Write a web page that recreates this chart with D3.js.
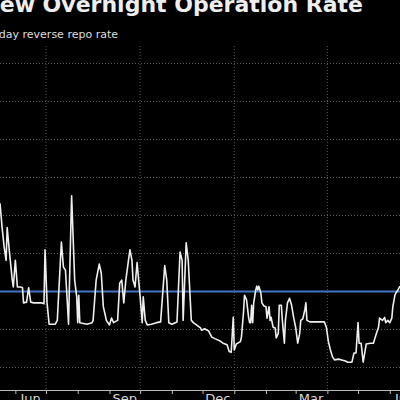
<!DOCTYPE html>
<html>
<head>
<meta charset="utf-8">
<script src="https://cdn.jsdelivr.net/npm/d3@7"></script>
<style>
  html, body { margin: 0; padding: 0; background: #000; }
  svg { display: block; }
</style>
</head>
<body>
<script>
// chart data
var dates = [
  "2019-05-17","2019-05-19","2019-05-21","2019-05-23","2019-05-24","2019-05-26","2019-05-29","2019-05-30",
  "2019-06-01","2019-06-03","2019-06-06","2019-06-08","2019-06-09","2019-06-12","2019-06-14","2019-06-16",
  "2019-06-19","2019-06-27","2019-06-29","2019-06-30","2019-07-02","2019-07-04","2019-07-10","2019-07-12",
  "2019-07-16","2019-07-18","2019-07-20","2019-07-23","2019-07-24","2019-07-26","2019-07-29","2019-07-31",
  "2019-08-01","2019-08-02","2019-08-03","2019-08-10","2019-08-15","2019-08-16","2019-08-19","2019-08-22",
  "2019-08-24","2019-08-26","2019-08-29","2019-09-01","2019-09-03","2019-09-05","2019-09-09","2019-09-11",
  "2019-09-13","2019-09-15","2019-09-17","2019-09-21","2019-09-23","2019-09-24","2019-09-26","2019-09-28",
  "2019-10-01","2019-10-03","2019-10-04","2019-10-06","2019-10-08","2019-10-12","2019-10-17","2019-10-21",
  "2019-10-24","2019-10-25","2019-10-27","2019-10-29","2019-11-01","2019-11-06","2019-11-09","2019-11-11",
  "2019-11-12","2019-11-15","2019-11-17","2019-11-20","2019-11-22","2019-11-25","2019-11-29","2019-11-30",
  "2019-12-03","2019-12-07","2019-12-10","2019-12-13","2019-12-18","2019-12-21","2019-12-25","2019-12-27",
  "2019-12-29","2019-12-31","2020-01-01","2020-01-02","2020-01-03","2020-01-07","2020-01-08","2020-01-10",
  "2020-01-11","2020-01-13","2020-01-15","2020-01-16","2020-01-17","2020-01-18","2020-01-19","2020-01-20",
  "2020-01-22","2020-01-23","2020-01-24","2020-01-25","2020-01-27","2020-01-28","2020-01-30","2020-02-01",
  "2020-02-02","2020-02-04","2020-02-05","2020-02-06","2020-02-08","2020-02-10","2020-02-11","2020-02-13",
  "2020-02-14","2020-02-16","2020-02-17","2020-02-19","2020-02-20","2020-02-22","2020-02-24","2020-02-26",
  "2020-02-28","2020-03-01","2020-03-03","2020-03-05","2020-03-06","2020-03-08","2020-03-10","2020-03-11",
  "2020-03-12","2020-03-15","2020-03-20","2020-03-25","2020-03-29","2020-03-31","2020-04-02","2020-04-04",
  "2020-04-06","2020-04-08","2020-04-12","2020-04-15","2020-04-18","2020-04-21","2020-04-25","2020-04-27",
  "2020-04-29","2020-05-01","2020-05-02","2020-05-04","2020-05-06","2020-05-08","2020-05-09","2020-05-13",
  "2020-05-16","2020-05-19","2020-05-21","2020-05-22","2020-05-25","2020-05-27","2020-05-28","2020-05-30",
  "2020-06-01","2020-06-03","2020-06-04","2020-06-06","2020-06-07","2020-06-09","2020-06-11"
];
var marketRate = [
  3.66,3.35,3.09,2.91,3.34,3.05,2.65,2.56,
  2.91,2.56,2.56,2.55,2.35,2.36,2.55,2.36,
  2.35,2.35,2.34,3.05,2.35,2.07,2.07,2.12,
  3.15,2.82,2.78,2.07,2.65,3.76,2.65,2.43,
  2.09,2.45,2.09,2.07,2.09,2.12,2.65,2.86,
  2.74,2.30,2.12,2.06,2.15,2.09,2.12,2.61,
  2.65,2.35,2.65,3.05,2.91,2.65,2.56,2.88,
  2.43,2.09,2.43,2.12,2.06,2.07,2.09,2.10,
  2.65,2.84,2.65,2.09,2.07,2.10,3.02,2.91,
  2.12,3.14,2.91,2.12,2.09,2.06,2.02,1.99,
  2.01,1.98,1.90,1.88,1.85,1.82,1.80,1.71,
  1.70,2.16,1.73,1.77,1.81,1.84,1.90,2.22,
  2.45,2.39,2.16,2.09,2.09,2.32,2.09,2.35,
  2.52,2.57,2.52,2.57,2.48,2.35,2.31,2.30,
  2.15,2.30,2.12,2.16,2.03,2.02,1.89,1.95,
  2.32,2.32,2.12,1.82,2.12,2.35,2.41,2.32,
  2.16,2.03,1.82,1.95,2.12,2.14,2.26,2.35,
  2.12,2.10,2.10,2.10,2.10,2.03,1.84,1.73,
  1.64,1.60,1.61,1.60,1.59,1.57,1.57,1.69,
  1.69,2.09,1.82,1.82,1.57,1.73,1.81,1.82,
  1.82,1.95,2.03,2.15,2.12,2.16,2.09,2.12,
  2.09,2.15,2.30,2.45,2.48,2.52,2.57
];
var policyRate = 2.5;
var yTicks = [1.5, 2.0, 2.5, 3.0, 3.5, 4.0, 4.5, 5.0, 5.5];
var monthTicks = ["2019-06-01","2019-07-01","2019-08-01","2019-09-01","2019-10-01","2019-11-01","2019-12-01",
  "2020-01-01","2020-02-01","2020-03-01","2020-04-01","2020-05-01","2020-06-01"];
var gridMonths = ["2019-07-01","2019-10-01","2020-01-01","2020-04-01"];
var monthLabels = [
  {date: "2019-06-16", text: "Jun"},
  {date: "2019-09-16", text: "Sep"},
  {date: "2019-12-16", text: "Dec"},
  {date: "2020-03-16", text: "Mar"},
  {date: "2020-06-16", text: "Jun"}
];

var parseDate = d3.timeParse("%Y-%m-%d");
var data = dates.map(function(d, i) { return {date: parseDate(d), value: marketRate[i]}; });

var W = 400, H = 400;
var plotTop = 46, plotBottom = 390;
var font = "'DejaVu Sans', sans-serif";

var x = d3.scaleTime()
    .domain([parseDate("2019-05-17"), parseDate("2020-06-11")])
    .range([0, 400]);
var y = d3.scaleLinear()
    .domain([1.204, 5.73])
    .range([plotBottom, plotTop]);

var svg = d3.select("body").append("svg")
    .attr("width", W)
    .attr("height", H)
    .style("background", "#000");

// horizontal grid
svg.append("g")
  .selectAll("line")
  .data(yTicks)
  .enter().append("line")
    .attr("x1", 0).attr("x2", W)
    .attr("y1", function(d) { return y(d); })
    .attr("y2", function(d) { return y(d); })
    .attr("stroke", "#5a5a5a")
    .attr("stroke-width", 1)
    .attr("stroke-dasharray", "1,2");

// vertical grid every quarter
svg.append("g")
  .selectAll("line")
  .data(gridMonths)
  .enter().append("line")
    .attr("x1", function(d) { return x(parseDate(d)); })
    .attr("x2", function(d) { return x(parseDate(d)); })
    .attr("y1", plotTop).attr("y2", plotBottom)
    .attr("stroke", "#5a5a5a")
    .attr("stroke-width", 1)
    .attr("stroke-dasharray", "1,2");

// policy rate
svg.append("line")
    .attr("x1", 0).attr("x2", W)
    .attr("y1", y(policyRate)).attr("y2", y(policyRate))
    .attr("stroke", "#4275c2")
    .attr("stroke-width", 2);

// market rate
var line = d3.line()
    .x(function(d) { return x(d.date); })
    .y(function(d) { return y(d.value); });

svg.append("path")
    .datum(data)
    .attr("fill", "none")
    .attr("stroke", "#efefef")
    .attr("stroke-width", 1.6)
    .attr("stroke-linejoin", "round")
    .attr("d", line);

// bottom axis with monthly ticks
var xAxis = svg.append("g")
    .attr("transform", "translate(0," + plotBottom + ")")
    .call(d3.axisBottom(x)
      .tickValues(monthTicks.map(parseDate))
      .tickSize(4)
      .tickFormat(""));
xAxis.select(".domain").attr("stroke", "#bbbbbb").attr("d", "M0,0.5H" + W);
xAxis.selectAll(".tick line").attr("stroke", "#bbbbbb");

svg.append("g")
  .selectAll("text")
  .data(monthLabels)
  .enter().append("text")
    .attr("x", function(d) { return x(parseDate(d.date)); })
    .attr("y", 403)
    .attr("text-anchor", "middle")
    .attr("fill", "#d8d8d8")
    .style("font-family", font)
    .style("font-size", "13px")
    .text(function(d) { return d.text; });

// title and subtitle
svg.append("text")
    .attr("x", 363)
    .attr("y", 12)
    .attr("text-anchor", "end")
    .attr("fill", "#eeeeee")
    .style("font-family", font)
    .style("font-weight", "bold")
    .style("font-size", "22px")
    .text("New Overnight Operation Rate");

svg.append("text")
    .attr("x", 118)
    .attr("y", 38)
    .attr("text-anchor", "end")
    .attr("fill", "#dddddd")
    .style("font-family", font)
    .style("font-size", "11px")
    .text("7-day reverse repo rate");
</script>
</body>
</html>
